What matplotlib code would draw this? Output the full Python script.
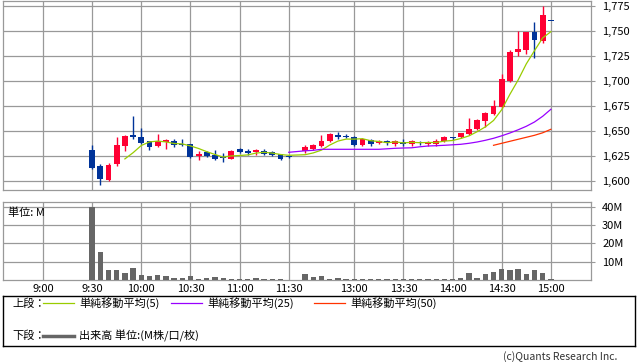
import matplotlib
matplotlib.use("Agg")
import matplotlib.pyplot as plt

plt.rcParams['font.family'] = ['Noto Sans CJK JP', 'DejaVu Sans']

# 5分足: スロット番号 (9:00 = 0, 1スロット = 5分, 昼休みは詰める)
slots = list(range(6, 31)) + list(range(32, 63))
opens = [1631, 1615, 1601, 1617, 1635, 1646, 1644, 1640, 1635, 1639, 1640, 1637, 1637,
         1625, 1629, 1626, 1624, 1622, 1632, 1630, 1629, 1630, 1629, 1627, 1625,
         1630, 1632, 1635, 1640, 1646, 1645, 1644, 1636, 1641, 1638, 1640, 1637, 1639,
         1637, 1639, 1637, 1637, 1640, 1644, 1644, 1647, 1652, 1660, 1667, 1674, 1700,
         1729, 1731, 1749, 1740, 1760]
highs = [1636, 1617, 1618, 1644, 1646, 1665, 1653, 1640, 1647, 1642, 1642, 1642, 1637,
         1630, 1630, 1631, 1628, 1631, 1633, 1632, 1632, 1632, 1630, 1627, 1625,
         1636, 1637, 1646, 1648, 1649, 1647, 1645, 1643, 1642, 1641, 1641, 1641, 1642,
         1641, 1640, 1640, 1642, 1645, 1644, 1648, 1663, 1662, 1669, 1681, 1707, 1731,
         1750, 1749, 1759, 1775, 1760]
lows = [1612, 1596, 1600, 1615, 1630, 1642, 1637, 1631, 1634, 1632, 1634, 1635, 1623,
        1621, 1624, 1621, 1619, 1622, 1628, 1626, 1626, 1626, 1625, 1621, 1623,
        1628, 1631, 1634, 1639, 1642, 1643, 1635, 1635, 1635, 1637, 1636, 1635, 1635,
        1635, 1636, 1635, 1635, 1639, 1641, 1643, 1646, 1651, 1654, 1666, 1673, 1699,
        1725, 1727, 1723, 1738, 1760]
closes = [1613, 1602, 1616, 1636, 1645, 1644, 1638, 1634, 1640, 1641, 1636, 1636, 1624,
          1627, 1625, 1622, 1623, 1630, 1629, 1628, 1631, 1627, 1626, 1622, 1624,
          1634, 1636, 1640, 1647, 1644, 1644, 1636, 1642, 1637, 1640, 1638, 1640, 1637,
          1640, 1638, 1639, 1640, 1644, 1643, 1648, 1652, 1661, 1668, 1675, 1702, 1729,
          1732, 1749, 1741, 1766, 1760]
volume = [40.0, 15.5, 5.5, 5.5, 3.8, 6.5, 2.7, 2.2, 2.7, 2.2, 1.1, 1.1, 2.2,
          0.6, 1.1, 1.6, 1.1, 0.6, 0.6, 0.6, 1.1, 0.6, 0.6, 0.6, 0.2,
          3.3, 1.6, 2.2, 0.6, 1.1, 0.6, 0.6, 0.6, 0.6, 0.6, 0.6, 0.6, 0.6,
          0.6, 0.6, 0.6, 0.6, 0.6, 0.6, 1.1, 3.8, 1.1, 3.3, 4.4, 6.0, 5.5,
          6.0, 3.3, 5.5, 3.8, 0.8]

ma5_slots = list(range(10, 31)) + list(range(32, 63))
ma5 = [1622.4, 1628.6, 1635.8, 1639.4, 1640.2, 1639.4, 1637.8, 1637.4, 1635.4, 1632.8,
       1629.6, 1626.8, 1624.2, 1625.4, 1625.8, 1626.4, 1628.2, 1629.0, 1628.2, 1626.8,
       1626.0,
       1626.6, 1628.4, 1631.2, 1636.2, 1640.2, 1642.2, 1642.2, 1642.6, 1640.6, 1639.8,
       1638.6, 1639.4, 1638.4, 1639.0, 1638.6, 1638.8, 1638.8, 1640.2, 1640.8, 1642.8,
       1645.4, 1649.6, 1654.4, 1660.8, 1671.6, 1687.0, 1701.2, 1717.4, 1730.6, 1743.4,
       1749.6]
ma25_slots = [30] + list(range(32, 63))
ma25 = [1629.0, 1630.5, 1631.0, 1632.0, 1632.0, 1632.0, 1632.0, 1632.0, 1632.0, 1632.0,
        1632.0, 1632.5, 1633.0, 1633.3, 1633.5, 1634.5, 1635.3, 1635.6, 1636.0, 1636.5,
        1637.0, 1638.0, 1639.3, 1641.0, 1643.0, 1645.5, 1648.3, 1651.5, 1655.0, 1659.3,
        1665.0, 1672.0]
ma50_slots = list(range(55, 63))
ma50 = [1636.0, 1638.0, 1640.0, 1642.0, 1644.0, 1646.0, 1648.5, 1652.0]

tick_slots = [0, 6, 12, 18, 24, 30, 38, 44, 50, 56, 62]
tick_labels = ["9:00", "9:30", "10:00", "10:30", "11:00", "11:30",
               "13:00", "13:30", "14:00", "14:30", "15:00"]
price_ticks = [1600, 1625, 1650, 1675, 1700, 1725, 1750, 1775]
vol_ticks = [10, 20, 30, 40]

UP = "#ff0033"
DOWN = "#003399"
GRID = "#999999"
W, H = 638, 362


def rect(x0, y0, x1, y1):
    return [x0 / W, 1 - y1 / H, (x1 - x0) / W, (y1 - y0) / H]


def style_axes(ax):
    ax.set_xlim(-4.88, 66.9)
    ax.set_xticks(tick_slots)
    ax.grid(True, color=GRID, lw=0.9)
    ax.set_axisbelow(True)
    for sp in ax.spines.values():
        sp.set_color(GRID)
        sp.set_linewidth(0.9)
    ax.yaxis.tick_right()
    ax.tick_params(axis="y", right=True, left=False, length=3, color=GRID,
                   labelsize=8, pad=5)
    ax.tick_params(axis="x", length=0, labelsize=8, pad=3)


fig = plt.figure(figsize=(6.38, 3.62), dpi=100)

# 上段: ローソク足
ax = fig.add_axes(rect(3, 0.7, 591, 190.3))
style_axes(ax)
ax.set_ylim(1591, 1780.6)
ax.set_yticks(price_ticks)
ax.set_yticklabels([f"{p:,}" for p in price_ticks])
ax.set_xticklabels([])

for s, o, h, l, c in zip(slots, opens, highs, lows, closes):
    col = UP if c > o else DOWN
    ax.vlines(s, l, h, color=col, lw=1.0, zorder=3)
    ax.bar(s, max(abs(c - o), 1), bottom=min(o, c), width=0.72, color=col,
           lw=0, zorder=3)

ax.plot(ma5_slots, ma5, color="#99cc00", lw=0.9, zorder=4)
ax.plot(ma25_slots, ma25, color="#9900ff", lw=0.9, zorder=4)
ax.plot(ma50_slots, ma50, color="#ff3300", lw=0.9, zorder=4)

# 下段: 出来高
axv = fig.add_axes(rect(3, 201.7, 591, 280))
style_axes(axv)
axv.set_ylim(0, 42.7)
axv.set_yticks(vol_ticks)
axv.set_yticklabels([f"{v}M" for v in vol_ticks])
axv.set_xticklabels(tick_labels)
axv.bar(slots, volume, width=0.65, color="#666666", lw=0, zorder=3)
axv.text(0.008, 0.93, "単位: M", transform=axv.transAxes, fontsize=8,
         va="top", ha="left", color="#000000")

# 凡例
axl = fig.add_axes(rect(3.3, 296, 634.7, 345.7))
axl.set_xlim(3.3, 634.7)
axl.set_ylim(345.7, 296)
axl.set_xticks([])
axl.set_yticks([])
for sp in axl.spines.values():
    sp.set_color("#000000")
    sp.set_linewidth(1.0)

axl.text(12, 303.5, "上段：", fontsize=8, va="center", ha="left")
legend_items = [(43, "#99cc00", "単純移動平均(5)"),
                (171, "#9900ff", "単純移動平均(25)"),
                (314, "#ff3300", "単純移動平均(50)")]
for x0, col, label in legend_items:
    axl.plot([x0, x0 + 31], [303.5, 303.5], color=col, lw=0.9)
    axl.text(x0 + 36, 303.5, label, fontsize=8, va="center", ha="left")
axl.text(12, 336, "下段：", fontsize=8, va="center", ha="left")
axl.plot([43, 74], [336, 336], color="#666666", lw=2.5)
axl.text(79, 336, "出来高 単位:(M株/口/枚)", fontsize=8, va="center", ha="left")

fig.text(617 / W, 1 - 357 / H, "(c)Quants Research Inc.", fontsize=7.5,
         ha="right", va="center", color="#333333")

fig.savefig("out.png", dpi=100)
